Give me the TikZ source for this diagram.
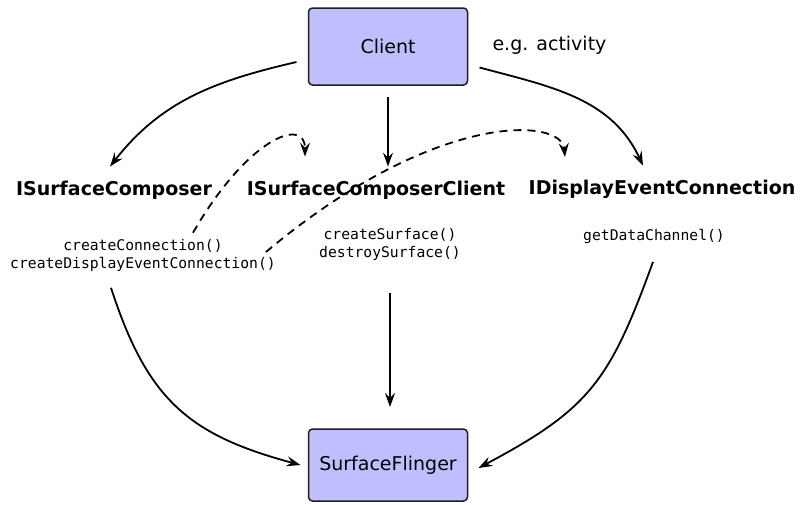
\documentclass[tikz,border=0pt]{standalone}
\usepackage{fontspec}
\setmainfont{DejaVu Sans}
\setmonofont{DejaVu Sans Mono}
\usetikzlibrary{arrows.meta}
\definecolor{sfblue}{RGB}{191,191,255}
\definecolor{sfedge}{RGB}{30,30,30}
\tikzset{
  box/.style={draw=sfedge, fill=sfblue, line width=1.5pt, rounded corners=4pt,
    minimum width=159pt, minimum height=77pt, outer sep=12pt,
    font=\fontsize{19}{23}\selectfont},
  iface/.style={font=\fontsize{19}{23}\selectfont\bfseries, inner sep=0pt,
    outer sep=14pt, anchor=base},
  methods/.style={font=\fontsize{14.7}{18}\selectfont\ttfamily, align=center,
    inner sep=0pt},
  conn/.style={line width=1.8pt, -{Stealth[length=14pt,width=10pt,inset=5pt]}},
  call/.style={conn, dash pattern=on 8pt off 6pt},
}

\begin{document}
\begin{tikzpicture}[x=1pt,y=1pt]
    \useasboundingbox (0,0) rectangle (800,-504);

    % the two processes
    \node[box] (client) at (388,-46.5) {Client};
    \node[box, minimum height=72pt] (flinger) at (388,-465) {SurfaceFlinger};
    \node[anchor=base west, font=\fontsize{19}{23}\selectfont] (note) at (489,-50) {e.g. activity};

    % binder interfaces and their calls
    \node[iface] (isc) at (114,-195) {ISurfaceComposer};
    \node[iface] (iscc) at (376,-195) {ISurfaceComposerClient};
    \node[iface] (idec) at (662,-194) {IDisplayEventConnection};
    \node[methods] (cmeth) at (143,-255) {createConnection()\\createDisplayEventConnection()};
    \node[methods] (smeth) at (390,-244) {createSurface()\\destroySurface()};
    \node[methods] (dmeth) at (654,-236) {getDataChannel()};

    % client holds all three
    \draw[conn] ([yshift=-15.5pt]client.west) to[out=193,in=52] ([xshift=-4pt]isc.north);
    \draw[conn] (client.south) -- (client.south |- iscc.north);
    \draw[conn] ([yshift=-21pt]client.east) to[out=-15,in=115] ([xshift=-19pt]idec.north);

    % the composer hands out the other two
    \draw[call] ([xshift=50pt,yshift=6pt]cmeth.north) .. controls +(60:110) and +(90:40) .. ([xshift=-71pt,yshift=10pt]iscc.north);
    \draw[call] ([xshift=-10pt,yshift=3pt]cmeth.east) .. controls +(40:220) and +(95:40) .. ([xshift=-97pt,yshift=8.5pt]idec.north);

    % everything ends up in SurfaceFlinger
    \draw[conn] ([xshift=-32pt,yshift=-16.5pt]cmeth.south) to[out=-72,in=165,looseness=1.15] ([xshift=4pt]flinger.west);
    \draw[conn] ([yshift=-33pt]smeth.south) -- ([xshift=2pt,yshift=10pt]flinger.north);
    \draw[conn] ([xshift=-1pt,yshift=-18.5pt]dmeth.south) to[out=-110,in=28,looseness=1.2] ([xshift=-1pt,yshift=-3pt]flinger.east);
\end{tikzpicture}
\end{document}
